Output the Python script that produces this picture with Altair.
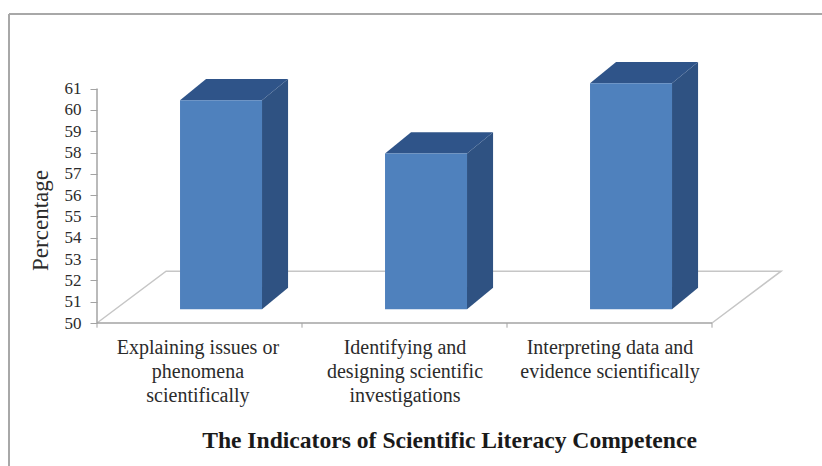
import altair as alt
import pandas as pd

# Chart values
categories = [
    "Explaining issues or|phenomena|scientifically",
    "Identifying and|designing scientific|investigations",
    "Interpreting data and|evidence scientifically",
]
values = [59.8, 57.3, 60.6]
y_ticks = list(range(50, 62))
category_ticks = [0, 1, 2, 3]
label_positions = [0.49, 1.5, 2.5]

# Layout of the drawing, in data units
PX_X = 205.0             # pixels per category
PX_Y = 260 / 12.2        # pixels per percentage point
X_MAX = 685 / PX_X
Y_MAX = 62.2
BAR_LEFT = [0.405, 1.405, 2.405]
BAR_WIDTH = 0.40
FLOOR_LIFT = 0.65        # bars stand partway into the floor, so they start above 50
BAR_BASE = 50 + FLOOR_LIFT
DEPTH_X = 0.127
DEPTH_Y = 1.0
FLOOR_X = 0.337
FLOOR_Y = 2.43

x_scale = alt.Scale(domain=[0, X_MAX], nice=False, zero=False)
y_scale = alt.Scale(domain=[50, Y_MAX], nice=False, zero=False)

FRONT = "#4F81BD"
SIDE = "#2F5282"
TOP = "#2F5489"
FLOOR = "#C6C6C6"
AXIS = "#A3A3A3"
TEXT = "#2B2B2B"
SERIF = "Liberation Serif"

tops = [v + FLOOR_LIFT for v in values]

front = pd.DataFrame({
    "x": BAR_LEFT,
    "x2": [l + BAR_WIDTH for l in BAR_LEFT],
    "y": [BAR_BASE] * 3,
    "y2": tops,
})

side_rows, top_rows = [], []
for i, (l, v) in enumerate(zip(BAR_LEFT, tops)):
    r = l + BAR_WIDTH
    side_rows += [
        {"bar": i, "x": r, "low": BAR_BASE, "high": v},
        {"bar": i, "x": r + DEPTH_X, "low": BAR_BASE + DEPTH_Y, "high": v + DEPTH_Y},
    ]
    top_rows += [
        {"bar": i, "y": v, "left": l, "right": r},
        {"bar": i, "y": v + DEPTH_Y, "left": l + DEPTH_X, "right": r + DEPTH_X},
    ]
side = pd.DataFrame(side_rows)
top = pd.DataFrame(top_rows)

floor = pd.DataFrame({
    "i": [0, 1, 2, 3],
    "x": [0, FLOOR_X, 3 + FLOOR_X, 3],
    "y": [50, 50 + FLOOR_Y, 50 + FLOOR_Y, 50],
})

label_expr = "split(" + "".join(
    f"datum.value < {p + 0.1} ? '{c}' : " for p, c in zip(label_positions[:-1], categories[:-1])
) + f"'{categories[-1]}', '|')"

# Every layer shares these axes so they merge into one; the axis lines are rules below
x_axis = alt.Axis(
    values=label_positions, labelExpr=label_expr, domain=False, ticks=False, grid=False,
    labelFont=SERIF, labelFontSize=20, labelColor=TEXT, labelPadding=24,
    labelLineHeight=24, labelOverlap=False, labelFlush=False, labelBound=False,
    labelAngle=0, labelBaseline="middle",
    title="The Indicators of Scientific Literacy Competence",
    titleFont=SERIF, titleFontSize=23.6, titleFontWeight="bold", titleColor="#1A1A1A",
    titleX=352, titleY=117, titleAlign="center", titleBaseline="middle",
)
y_axis = alt.Axis(
    values=y_ticks, format="d", domain=False, grid=False, ticks=True,
    tickColor=AXIS, tickSize=7, tickWidth=1,
    labelFont=SERIF, labelFontSize=17, labelColor=TEXT, labelPadding=9,
    labelOverlap=False, labelBound=False, labelFlush=False,
    title="Percentage", titleFont=SERIF, titleFontSize=23, titleFontWeight="normal",
    titleColor=TEXT, titleX=-57, titleY=157, titleAngle=-90,
    titleAlign="center", titleBaseline="middle",
)


def px(field):
    return alt.X(field, scale=x_scale, axis=x_axis)


def py(field):
    return alt.Y(field, scale=y_scale, axis=y_axis)


floor_lines = alt.Chart(floor).mark_line(color=FLOOR, strokeWidth=1.5).encode(
    x=px("x:Q"), y=py("y:Q"), order="i:Q"
)

y_line = alt.Chart(pd.DataFrame({"x": [0], "y": [50], "y2": [61]})).mark_rule(
    color=AXIS, strokeWidth=1.5
).encode(x=px("x:Q"), y=py("y:Q"), y2="y2:Q")

x_line = alt.Chart(pd.DataFrame({"x": [0], "x2": [3], "y": [50]})).mark_rule(
    color=AXIS, strokeWidth=1.5
).encode(x=px("x:Q"), x2="x2:Q", y=py("y:Q"))

x_ticks = alt.Chart(pd.DataFrame({"x": category_ticks, "y": [50] * 4, "y2": [49.78] * 4})).mark_rule(
    color=AXIS, strokeWidth=1
).encode(x=px("x:Q"), y=py("y:Q"), y2="y2:Q")

side_faces = alt.Chart(side).mark_area(color=SIDE, opacity=1, orient="vertical").encode(
    x=px("x:Q"), y=py("low:Q"), y2="high:Q", detail="bar:N"
)
top_faces = alt.Chart(top).mark_area(color=TOP, opacity=1, orient="horizontal").encode(
    y=py("y:Q"), x=px("left:Q"), x2="right:Q", detail="bar:N"
)
front_faces = alt.Chart(front).mark_rect(color=FRONT, opacity=1).encode(
    x=px("x:Q"), x2="x2:Q", y=py("y:Q"), y2="y2:Q"
)

# Outer frame: only the top and left edges show up to the page edge
FRAME_LEFT = -88 / PX_X
FRAME_RIGHT = (822 - 97) / PX_X
FRAME_TOP = 50 + (323 - 14) / PX_Y
FRAME_BOTTOM = 50 - (466 - 323) / PX_Y
frame_top = alt.Chart(pd.DataFrame({"x": [FRAME_LEFT], "x2": [FRAME_RIGHT], "y": [FRAME_TOP]})).mark_rule(
    color="#A8A8A8", strokeWidth=2
).encode(x=px("x:Q"), x2="x2:Q", y=py("y:Q"))
frame_left = alt.Chart(pd.DataFrame({"x": [FRAME_LEFT], "y": [FRAME_BOTTOM], "y2": [FRAME_TOP]})).mark_rule(
    color="#A8A8A8", strokeWidth=2
).encode(x=px("x:Q"), y=py("y:Q"), y2="y2:Q")

chart = alt.layer(
    frame_top, frame_left, floor_lines, x_line, y_line, x_ticks,
    side_faces, top_faces, front_faces,
).properties(
    width=685, height=260,
    padding={"left": 97, "top": 63, "right": 40, "bottom": 143},
    autosize=alt.AutoSizeParams(type="none"),
    background="white",
).configure_view(stroke=None)

chart.save("out.html", embed_options={"renderer": "svg", "actions": False})
